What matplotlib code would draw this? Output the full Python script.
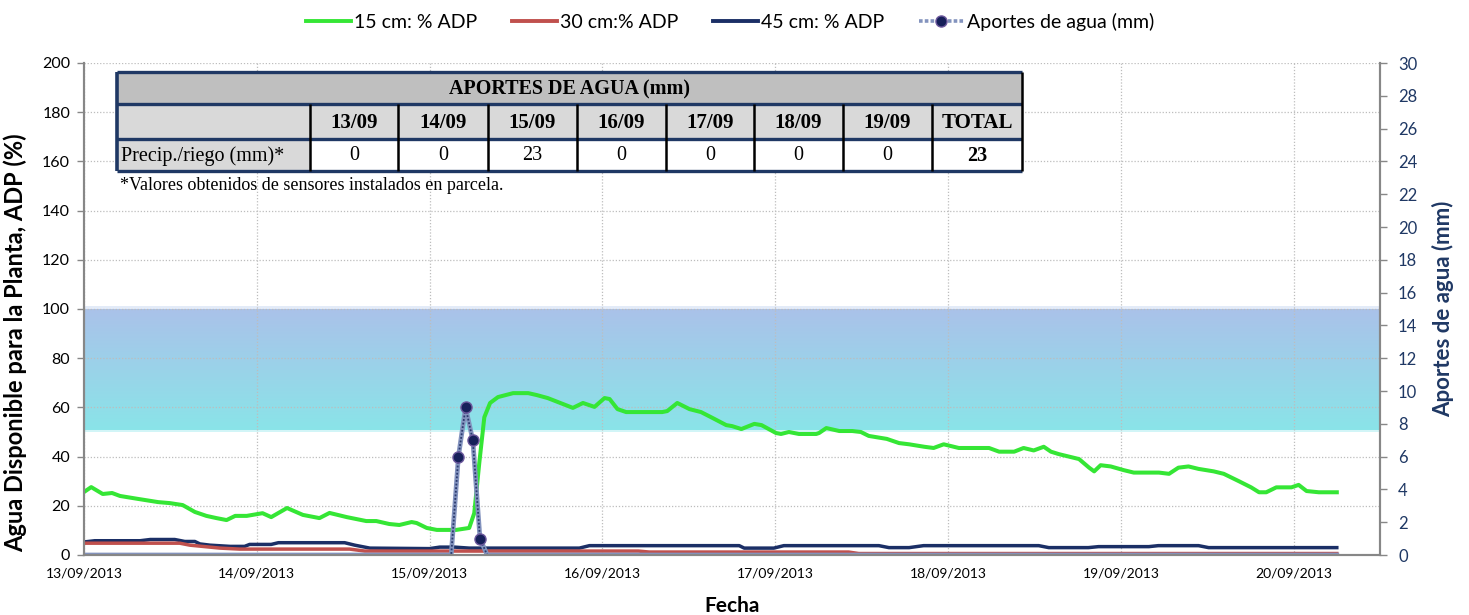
import numpy as np
import matplotlib
matplotlib.use("Agg")
import matplotlib.pyplot as plt
import matplotlib.dates as mdates
from matplotlib.patches import Rectangle
from matplotlib.lines import Line2D

plt.rcParams['font.family'] = ['Lato', 'DejaVu Sans']

# ---------------- data ----------------
start = np.datetime64('2013-09-13T00:00')
xmax_hours = 180

# 15 cm (% ADP): hours since 13/09 00:00, values
g_hours = [0, 1, 2.6, 3.9, 5, 7.5, 10.3, 11.9, 13.7, 15.4, 17, 18.4, 19.8, 21, 22.6, 24.8, 26,
           28.2, 30.4, 32.7, 34.1, 36.5, 39.2, 40.6, 42.4, 43.8, 45.5, 46.2, 47.6, 49, 51.7, 53.5,
           54.2, 54.9, 55.6, 56.4, 57.5, 59.6, 61.7, 62.9, 64.4, 66.5, 67.9, 69.3, 70.9, 72.3, 73,
           74.1, 75.3, 80.3, 81, 82.4, 84.1, 85.7, 87.3, 89.2, 90, 91.3, 93.1, 94.1, 96.1, 96.8,
           97.9, 99.3, 101.7, 102.1, 103.1, 104.9, 106.7, 107.9, 109, 111.5, 113.2, 114.6, 116.7,
           118, 119.4, 121.5, 125.7, 127.1, 129.2, 130.5, 131.9, 133.3, 134.3, 135.4, 138.2, 139.6,
           140.3, 141.2, 142.6, 144.4, 145.8, 149.3, 150.7, 152.0, 153.4, 154.8, 156.9, 158.3,
           160.4, 162.1, 163.2, 164.2, 165.6, 167.7, 168.7, 169.8, 171.5, 174]
g_vals = [25.6, 27.6, 24.8, 25.2, 24, 22.8, 21.5, 21.1, 20.3, 17.5, 15.9, 15, 14.2, 15.9, 15.9, 17, 15.4,
          19.1, 16.3, 15, 17.1, 15.4, 13.8, 13.8, 12.6, 12.2, 13.4, 13, 11, 10.2, 10.2, 11,
          17, 37.4, 56, 61.8, 64.2, 65.8, 65.8, 65, 63.8, 61.4, 59.8, 61.8, 60.2, 63.8, 63.4,
          59.3, 58.1, 58.1, 58.5, 61.8, 59.3, 58.1, 55.7, 52.8, 52.4, 51.2, 53.3, 52.8, 49.6, 49.2,
          50, 49.2, 49.2, 49.6, 51.6, 50.4, 50.4, 50, 48.4, 47.2, 45.5, 45, 44,
          43.5, 45, 43.5, 43.5, 42, 42, 43.5, 42.5, 44, 42, 41, 39, 35.5,
          34, 36.5, 36, 34.5, 33.5, 33.5, 33, 35.5, 36, 35, 34, 33,
          30, 27.5, 25.5, 25.5, 27.5, 27.5, 28.5, 26, 25.5, 25.5]

# 30 cm (% ADP)
r_hours = [0, 13.3, 14.7, 16.1, 18.9, 21.6, 36.9, 39, 77, 78.5, 106.2, 107.6, 174]
r_vals = [4.8, 4.8, 4.0, 3.6, 2.8, 2.4, 2.4, 1.6, 1.6, 1.2, 1.2, 0.6, 0.6]

# 45 cm (% ADP)
n_hours = [0, 1.5, 7.8, 9.2, 12.6, 14, 15.4, 16.1, 17.5, 20.3, 22.3, 23, 26, 27, 36.2, 37.6, 39.7,
           48, 49.4, 51.5, 53.5, 68.8, 70.2, 85.4, 91, 91.7, 95.8, 97.2, 110.4, 111.8, 114.6,
           116.6, 132.6, 134, 139.5, 140.9, 147.9, 149.2, 154.8, 156.2, 174]
n_vals = [5.3, 5.8, 5.8, 6.3, 6.3, 5.5, 5.5, 4.5, 4.0, 3.5, 3.5, 4.3, 4.3, 5.0, 5.0, 4.0, 2.8,
          2.6, 3.2, 3.2, 2.8, 2.8, 3.8, 3.8, 3.8, 2.8, 2.8, 3.8, 3.8, 3.0, 3.0,
          3.8, 3.8, 3.0, 3.0, 3.4, 3.4, 3.8, 3.8, 3.0, 3.0]

# Aportes de agua (mm), hourly
rain_hours = [0, 51, 52, 53, 54, 55, 56, 174]
rain_vals = [0, 0, 6, 9, 7, 1, 0, 0]

# optimal band (% ADP)
band_low, band_high = 51, 100

# table
table_days = ['13/09', '14/09', '15/09', '16/09', '17/09', '18/09', '19/09']
table_vals = [0, 0, 23, 0, 0, 0, 0]
table_total = 23

legend_labels = ['15 cm: % ADP', '30 cm:% ADP', '45 cm: % ADP', 'Aportes de agua (mm)']


def to_dt(hours):
    return start + (np.array(hours, dtype=float) * 60).astype('timedelta64[m]')


# ---------------- figure ----------------
W, H = 1469, 615
fig = plt.figure(figsize=(W / 100, H / 100), dpi=100)
L, R, T, B = 84, 1380, 63, 555
ax = fig.add_axes([L / W, 1 - B / H, (R - L) / W, (B - T) / H])
ax2 = ax.twinx()

x0 = mdates.date2num(to_dt([0])[0])
x1 = mdates.date2num(to_dt([xmax_hours])[0])

# band with gradient
grad_n = 100
c_bot = np.array([0x8A, 0xE4, 0xE8]) / 255
c_top = np.array([0xAA, 0xC2, 0xEA]) / 255
tt = np.linspace(0, 1, grad_n)[:, None]
grad = (c_bot[None, :] * (1 - tt) + c_top[None, :] * tt)[:, None, :]
ax.imshow(grad, extent=[x0, x1, band_low, band_high], origin='lower', aspect='auto',
          zorder=0.5, interpolation='bilinear')
ax.fill_between([x0, x1], band_low - 1.2, band_low, color='#D2F5F7', lw=0, zorder=0.4)
ax.fill_between([x0, x1], band_high, band_high + 1.4, color='#E3EBF8', lw=0, zorder=0.4)

ax.plot(to_dt(n_hours), n_vals, color='#1B2F66', lw=2.5, zorder=3, solid_joinstyle='round')
ax.plot(to_dt(r_hours), r_vals, color='#C0504D', lw=2.5, zorder=3, solid_joinstyle='round')
ax.plot(to_dt(g_hours), g_vals, color='#35E635', lw=2.9, zorder=4, solid_joinstyle='round')

rain_idx = [i for i, v in enumerate(rain_vals) if v > 0]
ax2.plot(to_dt(rain_hours), rain_vals, color='#8393BE', lw=3.4, zorder=2)
ax2.plot(to_dt(rain_hours), rain_vals, color='#2B3A6E', lw=1.3, ls=(0, (1, 1)), zorder=2.1,
         marker='o', markevery=rain_idx, ms=8, mfc='#17205A', mec='#6E5A9E', mew=1.0)

ax.set_xlim(x0, x1)
ax.set_ylim(0, 200)
ax2.set_ylim(0, 30)
ax.set_yticks(np.arange(0, 201, 20))
ax2.set_yticks(np.arange(0, 31, 2))
ax.xaxis.set_major_locator(mdates.DayLocator())
ax.xaxis.set_major_formatter(mdates.DateFormatter('%d/%m/%Y'))

ax.grid(True, color='#BDBDBD', ls=(0, (1, 1.5)), lw=0.9)
ax.set_axisbelow(True)

for a in (ax, ax2):
    a.spines['top'].set_visible(False)
    for s in ('left', 'right', 'bottom'):
        a.spines[s].set_color('#878787')
        a.spines[s].set_linewidth(1.5)

ax.tick_params(axis='y', labelsize=11.5, color='#878787', length=5, width=1, pad=5, labelcolor='black')
ax.tick_params(axis='x', labelsize=10, length=0, pad=9, labelcolor='black')
ax2.tick_params(axis='y', labelsize=12, color='#878787', length=5, width=1, pad=8,
                labelcolor='#1F3864')

ax.set_ylabel('Agua Disponible para la Planta, ADP (%)', fontsize=17, fontweight='bold')
ax.yaxis.set_label_coords(-0.0440, 0.431)
ax2.set_ylabel('Aportes de agua (mm)', fontsize=16, fontweight='bold', color='#1F3864')
ax2.yaxis.set_label_coords(1.040, 0.5)
ax.set_xlabel('Fecha', fontsize=15, fontweight='bold')
ax.xaxis.set_label_coords(0.5, -0.083)

# legend
handles = [
    Line2D([], [], color='#35E635', lw=2.8),
    Line2D([], [], color='#C0504D', lw=2.8),
    Line2D([], [], color='#1B2F66', lw=2.8),
    Line2D([], [], color='#8393BE', lw=2.6, ls=(0, (1, 0.6)), marker='o', ms=8,
           mfc='#17205A', mec='#6E5A9E'),
]
fig.legend(handles, legend_labels, loc='center', bbox_to_anchor=(0.497, 1 - 22 / H), ncol=4,
           frameon=False, fontsize=14, handlelength=2.3, handletextpad=0.15, columnspacing=1.8)

# ---------------- table (pixel coordinates overlay) ----------------
ov = fig.add_axes([0, 0, 1, 1], zorder=10)
ov.set_xlim(0, W)
ov.set_ylim(H, 0)
ov.axis('off')
ov.patch.set_alpha(0)

cols = [117, 310, 398, 488, 577, 666, 754, 843, 932, 1022]
rows = [72, 104, 139, 171]
navy = '#1F3864'
serif = ['Liberation Serif', 'DejaVu Serif']

ov.add_patch(Rectangle((cols[0], rows[0]), cols[-1] - cols[0], rows[1] - rows[0], fc='#BFBFBF', ec='none'))
ov.add_patch(Rectangle((cols[0], rows[1]), cols[-1] - cols[0], rows[2] - rows[1], fc='#D9D9D9', ec='none'))
ov.add_patch(Rectangle((cols[0], rows[2]), cols[1] - cols[0], rows[3] - rows[2], fc='#D9D9D9', ec='none'))
ov.add_patch(Rectangle((cols[1], rows[2]), cols[-1] - cols[1], rows[3] - rows[2], fc='white', ec='none'))

for yy in rows:
    ov.plot([cols[0], cols[-1]], [yy, yy], color=navy, lw=2.4, solid_capstyle='butt')
for xx in cols[1:-1]:
    ov.plot([xx, xx], [rows[1], rows[3]], color='black', lw=1.8, solid_capstyle='butt')
ov.plot([cols[0], cols[0]], [rows[0], rows[3]], color=navy, lw=2.6, solid_capstyle='butt')
ov.plot([cols[-1], cols[-1]], [rows[0], rows[3]], color='black', lw=1.8, solid_capstyle='butt')

ov.text((cols[0] + cols[-1]) / 2, (rows[0] + rows[1]) / 2 + 1, 'APORTES DE AGUA (mm)', ha='center',
        va='center', fontsize=14.5, fontweight='bold', family=serif)
header = table_days + ['TOTAL']
vals = [str(v) for v in table_vals] + [str(table_total)]
for i in range(len(header)):
    cx = (cols[i + 1] + cols[i + 2]) / 2
    ov.text(cx, (rows[1] + rows[2]) / 2 + 1, header[i], ha='center', va='center', fontsize=15,
            fontweight='bold', family=serif)
    ov.text(cx, (rows[2] + rows[3]) / 2 + 1, vals[i], ha='center', va='center', fontsize=14.5,
            fontweight='bold' if header[i] == 'TOTAL' else 'normal', family=serif)
ov.text(cols[0] + 4, (rows[2] + rows[3]) / 2 + 1, 'Precip./riego (mm)*', ha='left', va='center',
        fontsize=14.5, family=serif)
ov.text(cols[0] + 3, 185, '*Valores obtenidos de sensores instalados en parcela.', ha='left',
        va='center', fontsize=13, family=serif)

fig.savefig('out.png', dpi=100)
